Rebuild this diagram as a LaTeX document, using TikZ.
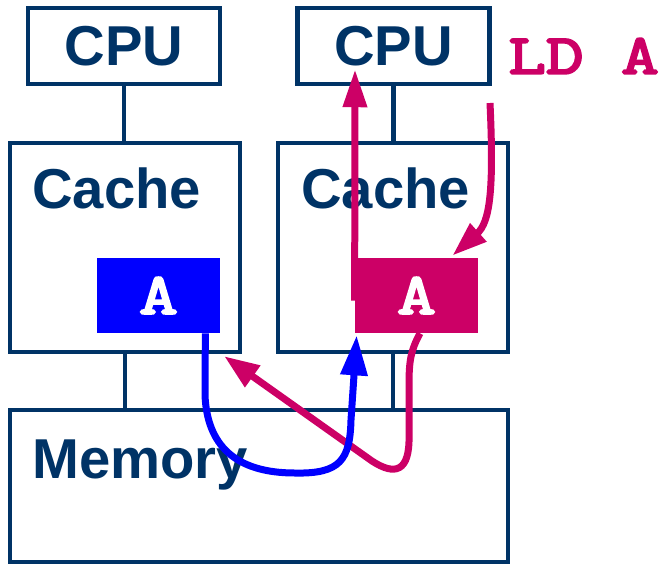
\documentclass[tikz,border=0pt]{standalone}
\usepackage{fontspec}
\setmainfont{Liberation Sans}
\newfontfamily\slabfont[FakeBold=4,FakeStretch=1.3]{Latin Modern Mono}
\usetikzlibrary{arrows.meta,positioning,calc}
\definecolor{navy}{RGB}{0,51,102}
\definecolor{hot}{RGB}{204,0,102}
\definecolor{pureblue}{RGB}{0,0,255}
\tikzset{
  unit/.style={draw=navy, line width=0.09cm, inner sep=0pt, minimum width=3.84cm, minimum height=1.52cm, text=navy, font=\fontsize{32}{38}\selectfont\bfseries},
  cachebox/.style={draw=navy, line width=0.09cm, minimum width=4.6cm, minimum height=4.18cm},
  membox/.style={draw=navy, line width=0.09cm, minimum width=9.96cm, minimum height=3.04cm},
  lbl/.style={inner sep=0pt, anchor=base west, text=navy, font=\fontsize{32}{38}\selectfont\bfseries},
  blk/.style={inner sep=0pt, minimum width=2.46cm, minimum height=1.5cm, text=white, font=\fontsize{33}{40}\selectfont\slabfont},
  bus/.style={navy, line width=0.09cm},
  move/.style={line width=0.14cm},
}

\begin{document}
\begin{tikzpicture}[x=0.02cm, y=-0.02cm]
\useasboundingbox (0,0) rectangle (663,566);

% processors, caches and memory
\node[unit] (cpuL) at (124,46) {CPU};
\node[unit] (cpuR) at (393.5,46) {CPU};
\node[cachebox] (cacheL) at (125,247.5) {};
\node[cachebox] (cacheR) at (393,247.5) {};
\node[membox] (mem) at (259,486) {};
\node[lbl] (cacheLtxt) at (32,208) {Cache};
\node[lbl] (cacheRtxt) at (301,208) {Cache};
\node[lbl] (memtxt) at (32,478) {Memory};

\draw[bus] (cpuL.south) -- (cpuL.south |- cacheL.north);
\draw[bus] (cpuR.south) -- (cpuR.south |- cacheR.north);
\draw[bus] (cacheL.south) -- (cacheL.south |- mem.north);
\draw[bus] (cacheR.south) -- (cacheR.south |- mem.north);

% cached copies of A
\node[blk, fill=pureblue] (blockL) at (158.5,295.5) {A};
\node[blk, fill=hot] (blockR) at (416.5,295.5) {A};

\node[inner sep=0pt, anchor=west, text=hot, font=\fontsize{32}{38}\selectfont\slabfont] (ld) at (508,56) {LD A};
\coordinate (ldstart) at (490,103);

% data movement
\draw[move, hot, -{Triangle[length=0.7cm,width=0.46cm]}] (ldstart) .. controls (494,190) and (490,222) .. ($(blockR.north east)+(-26,-2)$);
\draw[move, hot, -{Triangle[length=0.76cm,width=0.46cm]}] ($(blockR.west)+(0,5)$) -- ($(cpuR.south)+(-38.5,-17)$);
\draw[move, hot, -{Triangle[length=0.7cm,width=0.5cm]}] ($(blockR.south)+(3.5,0)$) .. controls (411,350) and (409,360) .. (409,385) -- (409,435) .. controls (410,472) and (395,476) .. (372,461) -- ($(cacheL.south east)+(-18,2)$);
\draw[move, pureblue, -{Triangle[length=0.8cm,width=0.52cm]}] ($(blockL.south east)+(-15,0)$) -- (205,395) .. controls (207,445) and (235,473) .. (295,473) .. controls (340,474) and (350,460) .. (351,420) -- ($(blockR.south west)+(2,2)$);
\end{tikzpicture}
\end{document}
